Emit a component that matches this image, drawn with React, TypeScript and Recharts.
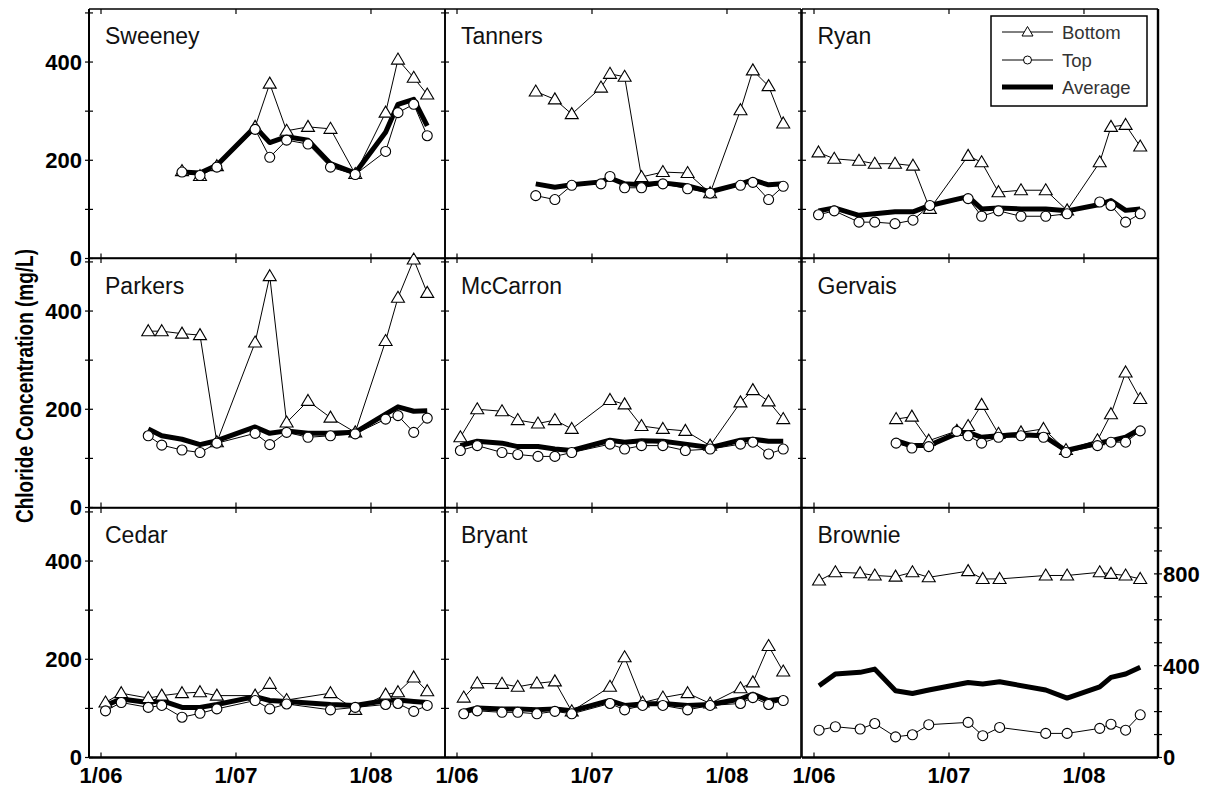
import React from 'react';
import { LineChart, Line, XAxis, YAxis } from 'recharts';

const FONT = '"Liberation Sans", Arial, Helvetica, sans-serif';

// x values are months since 1 Jan 2006
const xTickMonths = [0, 12, 24];
const xTickLabels = ['1/06', '1/07', '1/08'];
const leftTicks = [0, 100, 200, 300, 400, 500];
const leftLabels = [0, 200, 400];
const rightTicks = [0, 100, 200, 300, 400, 500, 600, 700, 800, 900, 1000];
const rightLabels = [0, 400, 800];
const seriesNames = ['Bottom', 'Top', 'Average'];
const yTitle = 'Chloride Concentration (mg/L)';

const sweeneyMonths = [7.2, 8.8, 10.3, 13.7, 15.0, 16.5, 18.4, 20.4, 22.6, 25.3, 26.4, 27.8, 29.0];
const sweeneyBottom = [178, 168, 188, 268, 356, 260, 268, 264, 172, 297, 405, 368, 334];
const sweeneyTop = [176, 169, 186, 263, 206, 241, 233, 186, 171, 218, 297, 314, 250];
const sweeneyAvg = [176, 174, 190, 268, 236, 248, 241, 193, 174, 257, 314, 324, 270];

const tannersMonths = [7.0, 8.7, 10.2, 12.8, 13.6, 14.9, 16.4, 18.3, 20.5, 22.5, 25.2, 26.3, 27.7, 29.0];
const tannersBottom = [340, 324, 294, 348, 376, 370, 166, 176, 174, 133, 302, 383, 351, 275];
const tannersTop = [128, 120, 149, 152, 167, 144, 144, 152, 142, 133, 149, 155, 120, 147];
const tannersAvg = [152, 145, 150, 156, 164, 152, 150, 154, 148, 136, 152, 160, 150, 152];

const ryanMonths = [0.4, 1.8, 4.0, 5.4, 7.2, 8.8, 10.3, 13.7, 14.9, 16.4, 18.4, 20.6, 22.5, 25.4, 26.4, 27.7, 29.0];
const ryanBottom = [216, 203, 199, 193, 193, 189, 101, 209, 196, 135, 139, 139, 98, 196, 268, 272, 228];
const ryanTop = [89, 97, 74, 74, 71, 78, 108, 122, 86, 97, 86, 86, 91, 115, 108, 74, 91];
const ryanAvg = [97, 103, 88, 91, 95, 95, 108, 126, 101, 103, 101, 101, 97, 110, 118, 98, 101];

const parkersMonths = [4.2, 5.4, 7.2, 8.8, 10.3, 13.7, 15.0, 16.5, 18.4, 20.4, 22.6, 25.3, 26.4, 27.8, 29.0];
const parkersBottom = [359, 359, 354, 351, 133, 336, 471, 173, 217, 183, 153, 339, 427, 505, 437];
const parkersTop = [146, 127, 117, 112, 131, 151, 128, 153, 143, 146, 150, 180, 187, 153, 182];
const parkersAvg = [160, 146, 139, 128, 136, 164, 151, 156, 151, 151, 153, 190, 205, 196, 197];

const mccarronMonths = [0.3, 1.8, 4.0, 5.4, 7.2, 8.7, 10.2, 13.6, 14.9, 16.4, 18.3, 20.3, 22.5, 25.2, 26.3, 27.7, 29.0];
const mccarronBottom = [143, 200, 196, 178, 171, 178, 160, 219, 210, 166, 160, 156, 126, 214, 239, 216, 180];
const mccarronTop = [116, 126, 112, 108, 104, 104, 112, 129, 119, 126, 126, 116, 119, 129, 133, 109, 119];
const mccarronAvg = [126, 135, 131, 124, 124, 119, 116, 137, 133, 136, 135, 129, 122, 137, 139, 135, 135];

const gervaisMonths = [7.3, 8.7, 10.2, 12.7, 13.7, 14.9, 16.4, 18.4, 20.4, 22.4, 25.2, 26.4, 27.7, 29.0];
const gervaisBottom = [180, 185, 136, 156, 166, 209, 150, 153, 160, 117, 137, 190, 275, 221];
const gervaisTop = [131, 121, 124, 155, 146, 131, 143, 146, 143, 112, 126, 133, 133, 156];
const gervaisAvg = [136, 126, 126, 151, 153, 143, 146, 148, 146, 116, 131, 136, 143, 160];

const cedarMonths = [0.4, 1.8, 4.2, 5.4, 7.2, 8.8, 10.3, 13.7, 15.0, 16.5, 20.4, 22.6, 25.3, 26.4, 27.8, 29.0];
const cedarBottom = [112, 131, 121, 126, 131, 133, 126, 126, 150, 117, 131, 97, 128, 133, 163, 135];
const cedarTop = [95, 112, 102, 106, 82, 90, 99, 116, 99, 109, 97, 102, 108, 110, 94, 106];
const cedarAvg = [106, 119, 112, 116, 102, 102, 108, 124, 116, 114, 108, 106, 116, 117, 114, 112];

const bryantMonths = [0.6, 1.8, 4.0, 5.4, 7.1, 8.7, 10.2, 13.6, 14.9, 16.5, 18.3, 20.5, 22.5, 25.2, 26.3, 27.7, 29.0];
const bryantBottom = [122, 151, 150, 144, 151, 155, 94, 144, 204, 112, 122, 131, 110, 141, 153, 227, 175];
const bryantTop = [89, 95, 92, 92, 89, 94, 89, 110, 97, 106, 106, 97, 106, 110, 122, 108, 116];
const bryantAvg = [94, 101, 99, 99, 97, 99, 95, 116, 106, 109, 110, 106, 108, 119, 129, 116, 119];

// Brownie is plotted on the right-hand axis
const brownieMonths = [0.45, 1.9, 4.1, 5.4, 7.25, 8.75, 10.2, 13.7, 15.0, 16.5, 20.6, 22.5, 25.4, 26.4, 27.7, 29.0];
const brownieBottom = [771, 807, 803, 793, 788, 807, 785, 812, 778, 778, 793, 793, 807, 800, 793, 778];
const brownieTop = [119, 134, 124, 148, 90, 99, 143, 153, 95, 131, 105, 105, 127, 145, 119, 186];
const brownieAvg = [313, 364, 371, 385, 291, 279, 294, 327, 320, 330, 294, 259, 308, 349, 364, 393];

const lakes = [
  { name: 'Sweeney', months: sweeneyMonths, bottom: sweeneyBottom, top: sweeneyTop, avg: sweeneyAvg },
  { name: 'Tanners', months: tannersMonths, bottom: tannersBottom, top: tannersTop, avg: tannersAvg },
  { name: 'Ryan', months: ryanMonths, bottom: ryanBottom, top: ryanTop, avg: ryanAvg },
  { name: 'Parkers', months: parkersMonths, bottom: parkersBottom, top: parkersTop, avg: parkersAvg },
  { name: 'McCarron', months: mccarronMonths, bottom: mccarronBottom, top: mccarronTop, avg: mccarronAvg },
  { name: 'Gervais', months: gervaisMonths, bottom: gervaisBottom, top: gervaisTop, avg: gervaisAvg },
  { name: 'Cedar', months: cedarMonths, bottom: cedarBottom, top: cedarTop, avg: cedarAvg },
  { name: 'Bryant', months: bryantMonths, bottom: bryantBottom, top: bryantTop, avg: bryantAvg },
  { name: 'Brownie', months: brownieMonths, bottom: brownieBottom, top: brownieTop, avg: brownieAvg },
];

// layout
const PLOT_W = 356;
const PLOT_H = 249.5;
const YW_L = 70;
const YW_R = 60;
const XH_TOP = 10;
const XH_BOT = 40;
const colX = [89, 445, 801.5];
const rowY = [8.5, 258, 507.5];
const X_DOMAIN: [number, number] = [-1.067, 30.58];
const L_DOMAIN: [number, number] = [0, 508];
const R_DOMAIN: [number, number] = [0, 1087];

const triDot = (p: any) => {
  const { cx, cy, index } = p;
  if (cx == null || cy == null || isNaN(cy)) return <g key={`t${index}`} />;
  return (
    <path
      key={`t${index}`}
      d={`M${cx},${cy - 6.5}L${cx + 6.5},${cy + 4.5}L${cx - 6.5},${cy + 4.5}Z`}
      fill="#fff"
      stroke="#000"
      strokeWidth={1.1}
    />
  );
};

const circDot = (p: any) => {
  const { cx, cy, index } = p;
  if (cx == null || cy == null || isNaN(cy)) return <g key={`c${index}`} />;
  return <circle key={`c${index}`} cx={cx} cy={cy} r={5} fill="#fff" stroke="#000" strokeWidth={1.1} />;
};

const labelStyle = { fontFamily: FONT, fontWeight: 700, fontSize: 22, fill: '#000' } as const;

const makeLeftTick = (showLabels: boolean) => (p: any) => {
  const { x, y, payload, index } = p;
  const v = payload.value;
  return (
    <g key={`l${index}`}>
      <line x1={x - 4} x2={x + 4} y1={y} y2={y} stroke="#000" strokeWidth={1.2} />
      {showLabels && leftLabels.includes(v) && (
        <text x={x - 7} y={y} dy="0.36em" textAnchor="end" style={labelStyle}>
          {v}
        </text>
      )}
    </g>
  );
};

const makeRightTick = (showLabels: boolean) => (p: any) => {
  const { x, y, payload, index } = p;
  const v = payload.value;
  return (
    <g key={`r${index}`}>
      <line x1={x - 4} x2={x + 4} y1={y} y2={y} stroke="#000" strokeWidth={1.2} />
      {showLabels && rightLabels.includes(v) && (
        <text x={x + 5} y={y} dy="0.36em" textAnchor="start" style={labelStyle}>
          {v}
        </text>
      )}
    </g>
  );
};

const makeBottomTick = (showLabels: boolean) => (p: any) => {
  const { x, y, payload, index } = p;
  const i = xTickMonths.indexOf(payload.value);
  return (
    <g key={`b${index}`}>
      <line x1={x} x2={x} y1={y - 5} y2={y} stroke="#000" strokeWidth={1.2} />
      {showLabels && i >= 0 && (
        <text x={x} y={y + 25} textAnchor="middle" style={labelStyle}>
          {xTickLabels[i]}
        </text>
      )}
    </g>
  );
};

const topTick = (p: any) => {
  const { x, y, index } = p;
  return <line key={`tt${index}`} x1={x} x2={x} y1={y} y2={y + 5} stroke="#000" strokeWidth={1.2} />;
};

function Panel({ lake, row, col }: { lake: (typeof lakes)[number]; row: number; col: number }) {
  const isRightScale = lake.name === 'Brownie';
  const data = lake.months.map((m, i) => ({ m, bottom: lake.bottom[i], top: lake.top[i], avg: lake.avg[i] }));
  const axisId = isRightScale ? 'R' : 'L';
  const w = YW_L + PLOT_W + YW_R;
  const h = XH_TOP + PLOT_H + XH_BOT;
  const edge = { stroke: '#000', strokeWidth: 1.6 };
  const heavy = { stroke: '#000', strokeWidth: 2.4 };
  return (
    <div style={{ position: 'absolute', left: colX[col] - YW_L, top: rowY[row] - XH_TOP, width: w, height: h }}>
      <LineChart width={w} height={h} data={data} margin={{ top: 0, right: 0, bottom: 0, left: 0 }}>
        <XAxis
          xAxisId="b"
          type="number"
          dataKey="m"
          orientation="bottom"
          domain={X_DOMAIN}
          ticks={xTickMonths}
          interval={0}
          height={XH_BOT}
          tickSize={0}
          tickMargin={0}
          tickLine={false}
          axisLine={row === 2 ? heavy : edge}
          tick={makeBottomTick(row === 2)}
        />
        <XAxis
          xAxisId="t"
          type="number"
          dataKey="m"
          orientation="top"
          domain={X_DOMAIN}
          ticks={xTickMonths}
          interval={0}
          height={XH_TOP}
          tickSize={0}
          tickMargin={0}
          tickLine={false}
          axisLine={edge}
          tick={topTick}
        />
        <YAxis
          yAxisId="L"
          orientation="left"
          type="number"
          width={YW_L}
          domain={L_DOMAIN}
          ticks={leftTicks}
          interval={0}
          tickSize={0}
          tickMargin={0}
          tickLine={false}
          axisLine={col === 0 ? { stroke: '#000', strokeWidth: 2 } : edge}
          tick={makeLeftTick(col === 0)}
        />
        <YAxis
          yAxisId="R"
          orientation="right"
          type="number"
          width={YW_R}
          domain={isRightScale ? R_DOMAIN : L_DOMAIN}
          ticks={isRightScale ? rightTicks : leftTicks}
          interval={0}
          tickSize={0}
          tickMargin={0}
          tickLine={false}
          axisLine={col === 2 ? heavy : edge}
          tick={makeRightTick(isRightScale)}
        />
        <Line
          xAxisId="b"
          yAxisId={axisId}
          dataKey="bottom"
          stroke="#000"
          strokeWidth={1}
          dot={triDot}
          activeDot={false}
          isAnimationActive={false}
        />
        <Line
          xAxisId="b"
          yAxisId={axisId}
          dataKey="top"
          stroke="#000"
          strokeWidth={1}
          dot={circDot}
          activeDot={false}
          isAnimationActive={false}
        />
        <Line
          xAxisId="b"
          yAxisId={axisId}
          dataKey="avg"
          stroke="#000"
          strokeWidth={5}
          strokeLinejoin="round"
          dot={false}
          activeDot={false}
          isAnimationActive={false}
        />
      </LineChart>
    </div>
  );
}

function Overlay() {
  const lx0 = 1002;
  const lx1 = 1053;
  const lxm = (lx0 + lx1) / 2;
  const rows = [32, 60, 87];
  return (
    <svg
      width={1210}
      height={787}
      style={{ position: 'absolute', left: 0, top: 0, pointerEvents: 'none' }}
    >
      {lakes.map((lake, i) => (
        <text
          key={lake.name}
          x={colX[i % 3] + 16}
          y={rowY[Math.floor(i / 3)] + 35.5}
          style={{ fontFamily: FONT, fontSize: 23, fill: '#111' }}
        >
          {lake.name}
        </text>
      ))}
      <text
        transform="translate(33,386) rotate(-90)"
        textAnchor="middle"
        textLength={274}
        lengthAdjust="spacingAndGlyphs"
        style={{ fontFamily: FONT, fontWeight: 700, fontSize: 24, fill: '#000' }}
      >
        {yTitle}
      </text>
      <g>
        <rect x={991} y={16} width={156} height={90} fill="#fff" stroke="#000" strokeWidth={1.5} />
        <line x1={lx0} x2={lx1} y1={rows[0]} y2={rows[0]} stroke="#000" strokeWidth={1} />
        <path
          d={`M${lxm},${rows[0] - 5.5}L${lxm + 5.5},${rows[0] + 4}L${lxm - 5.5},${rows[0] + 4}Z`}
          fill="#fff"
          stroke="#000"
          strokeWidth={1}
        />
        <line x1={lx0} x2={lx1} y1={rows[1]} y2={rows[1]} stroke="#000" strokeWidth={1} />
        <circle cx={lxm} cy={rows[1]} r={4} fill="#fff" stroke="#000" strokeWidth={1} />
        <line x1={lx0} x2={lx1} y1={rows[2]} y2={rows[2]} stroke="#000" strokeWidth={5} />
        {seriesNames.map((s, i) => (
          <text
            key={s}
            x={1062}
            y={rows[i] + 6.5}
            style={{ fontFamily: FONT, fontSize: 18.5, fill: '#333' }}
          >
            {s}
          </text>
        ))}
      </g>
    </svg>
  );
}

export default function App() {
  return (
    <div style={{ position: 'absolute', left: 0, top: 0, width: 1210, height: 787, background: '#fff', overflow: 'hidden' }}>
      {lakes.map((lake, i) => (
        <Panel key={lake.name} lake={lake} row={Math.floor(i / 3)} col={i % 3} />
      ))}
      <Overlay />
    </div>
  );
}
